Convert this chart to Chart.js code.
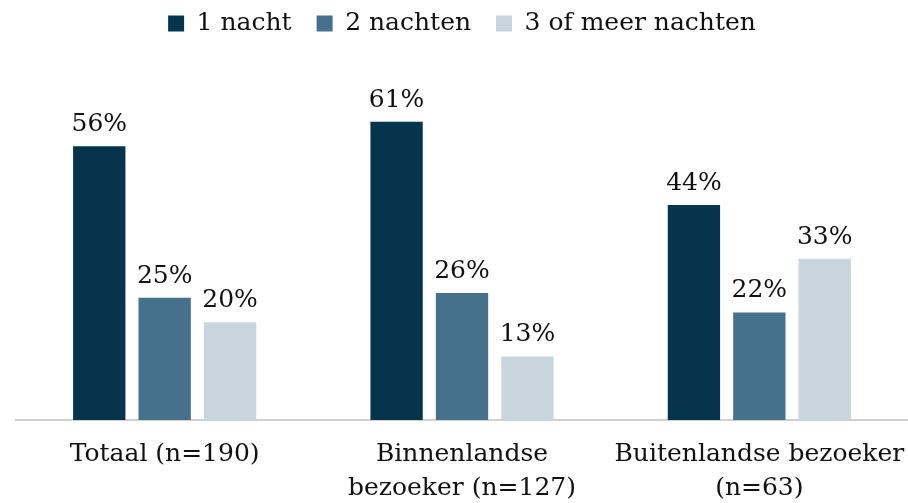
<!DOCTYPE html>
<html>
<head>
<meta charset="utf-8">
<script src="https://cdn.jsdelivr.net/npm/chart.js@4.4.0/dist/chart.umd.min.js"></script>
<style>
  html, body { margin: 0; padding: 0; background: #fff; }
  #wrap { width: 908px; height: 503px; position: relative; }
</style>
</head>
<body>
<div id="wrap"><canvas id="chart"></canvas></div>
<script>
const categories = [
    'Totaal (n=190)',
    ['Binnenlandse', 'bezoeker (n=127)'],
    ['Buitenlandse bezoeker', '(n=63)']
];
const seriesNames = ['1 nacht', '2 nachten', '3 of meer nachten'];
const oneNight = [56, 61, 44];
const twoNights = [25, 26, 22];
const threePlus = [20, 13, 33];
const seriesColors = ['#06344c', '#46718c', '#c8d5dc'];

const fontFamily = "'DejaVu Serif', Georgia, serif";

// draws the percentage above every bar
const valueLabels = {
    id: 'valueLabels',
    afterDatasetsDraw(chart) {
        const ctx = chart.ctx;
        ctx.save();
        ctx.font = `25px ${fontFamily}`;
        ctx.fillStyle = '#111';
        ctx.textAlign = 'center';
        ctx.textBaseline = 'bottom';
        chart.data.datasets.forEach((ds, i) => {
            chart.getDatasetMeta(i).data.forEach((bar, j) => {
                ctx.fillText(ds.data[j] + '%', bar.x, bar.y - 9);
            });
        });
        ctx.restore();
    }
};

new Chart(document.getElementById('chart'), {
    type: 'bar',
    data: {
        labels: categories,
        datasets: [
            { label: seriesNames[0], data: oneNight, backgroundColor: seriesColors[0] },
            { label: seriesNames[1], data: twoNights, backgroundColor: seriesColors[1] },
            { label: seriesNames[2], data: threePlus, backgroundColor: seriesColors[2] }
        ]
    },
    options: {
        responsive: true,
        maintainAspectRatio: false,
        animation: false,
        layout: { padding: { left: 16, right: 0, top: -14, bottom: 0 } },
        datasets: { bar: { categoryPercentage: 0.66, barPercentage: 0.8 } },
        scales: {
            y: { display: false, min: 0, max: 76.5 },
            x: {
                grid: { display: false, drawTicks: false },
                border: { display: true, color: '#d0d0d0', width: 2 },
                ticks: {
                    color: '#111',
                    font: { family: fontFamily, size: 25, lineHeight: 1.35 },
                    padding: 18,
                    maxRotation: 0,
                    autoSkip: false
                },
                // let the long last label run to the edge instead of shrinking the plot
                afterFit(scale) {
                    scale.paddingLeft = 0;
                    scale.paddingRight = 0;
                    scale.height = 83;
                }
            }
        },
        plugins: {
            tooltip: { enabled: false },
            legend: {
                position: 'top',
                labels: {
                    color: '#111',
                    font: { family: fontFamily, size: 25 },
                    boxWidth: 16,
                    boxHeight: 16,
                    padding: 25
                }
            }
        }
    },
    plugins: [valueLabels]
});
</script>
</body>
</html>
